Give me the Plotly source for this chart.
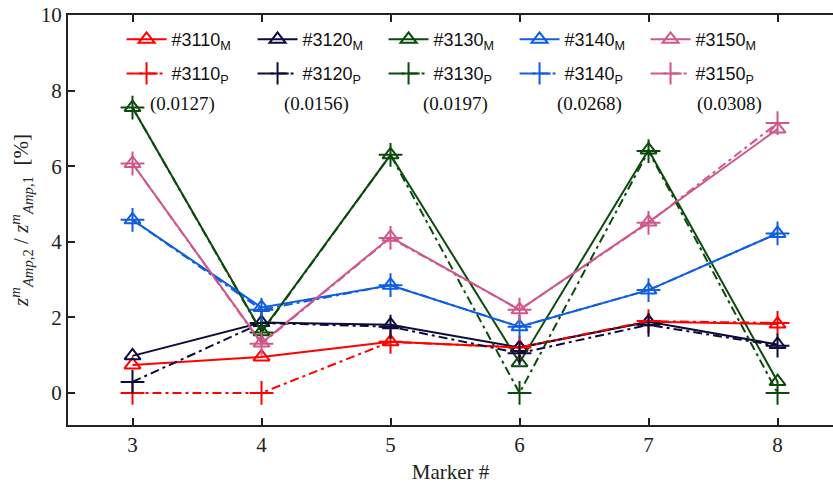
import plotly.graph_objects as go

markers = [3, 4, 5, 6, 7, 8]
names = ["#3110", "#3120", "#3130", "#3140", "#3150"]
colors = ["#ff0000", "#0c0c3c", "#0b4a0b", "#105ee0", "#d0578c"]

measured = [
    [0.74, 0.95, 1.35, 1.20, 1.88, 1.82],   # 3110
    [0.98, 1.86, 1.80, 1.20, 1.88, 1.28],   # 3120
    [7.55, 1.62, 6.30, 0.80, 6.43, 0.30],   # 3130
    [4.58, 2.26, 2.85, 1.75, 2.72, 4.22],   # 3140
    [6.07, 1.32, 4.12, 2.20, 4.52, 6.98],   # 3150
]
predicted = [
    [0.00, 0.00, 1.35, 1.20, 1.90, 1.85],   # 3110
    [0.29, 1.85, 1.75, 1.05, 1.80, 1.25],   # 3120
    [7.55, 1.60, 6.30, 0.00, 6.40, 0.00],   # 3130
    [4.58, 2.20, 2.85, 1.75, 2.72, 4.22],   # 3140
    [6.07, 1.30, 4.10, 2.20, 4.50, 7.14],   # 3150
]
ratios = ["(0.0127)", "(0.0156)", "(0.0197)", "(0.0268)", "(0.0308)"]
ratio_x = [3.39, 4.43, 5.50, 6.54, 7.63]
ratio_y = 7.65

fig = go.Figure()
for n, c, m in zip(names, colors, measured):
    fig.add_trace(go.Scatter(
        x=markers, y=m, mode="lines+markers", name=n + "<sub>M</sub>", legend="legend",
        line=dict(color=c, width=2),
        marker=dict(symbol="triangle-up-open", size=14, color=c, line=dict(width=2, color=c)),
    ))
for n, c, p in zip(names, colors, predicted):
    fig.add_trace(go.Scatter(
        x=markers, y=p, mode="lines+markers", name=n + "<sub>P</sub>", legend="legend2",
        line=dict(color=c, width=2, dash="9px,4px,3px,4px"),
        marker=dict(symbol="cross-thin-open", size=17, color=c, line=dict(width=2, color=c)),
    ))

for t, xx in zip(ratios, ratio_x):
    fig.add_annotation(x=xx, y=ratio_y, xref="x", yref="y", text=t, showarrow=False,
                       font=dict(family="Liberation Serif", size=19, color="#111"))

serif = "Liberation Serif"
leg = dict(
    orientation="h", x=0.07, xanchor="left", yanchor="top",
    bgcolor="rgba(0,0,0,0)", font=dict(family="Liberation Sans", size=18, color="#111"),
    entrywidth=76, entrywidthmode="pixels", itemwidth=40,
)
fig.update_layout(
    width=833, height=488,
    margin=dict(l=68, r=0, t=15, b=63),
    paper_bgcolor="white", plot_bgcolor="white",
    showlegend=True,
    legend=dict(leg, y=0.985),
    legend2=dict(leg, y=0.902),
    xaxis=dict(
        range=[2.5, 8.43], tickvals=markers, ticks="inside", ticklen=7, tickwidth=2,
        tickcolor="#222", showline=True, linecolor="#222", linewidth=2, mirror="ticks",
        showgrid=False, zeroline=False,
        tickfont=dict(family=serif, size=21, color="#222"),
        title=dict(text="Marker #", font=dict(family=serif, size=21, color="#222"), standoff=8),
    ),
    yaxis=dict(
        range=[-0.85, 10], tickvals=[0, 2, 4, 6, 8, 10], ticks="inside", ticklen=7, tickwidth=2,
        tickcolor="#222", showline=True, linecolor="#222", linewidth=2, mirror=False,
        showgrid=False, zeroline=False,
        tickfont=dict(family=serif, size=21, color="#222"),
        title=dict(
            text="<i>z</i><sup><i>m</i></sup><sub><i>Amp</i>,2</sub> / <i>z</i><sup><i>m</i></sup><sub><i>Amp</i>,1</sub>  [%]",
            font=dict(family=serif, size=21, color="#222"), standoff=6),
    ),
)

fig.write_html("out.html")
